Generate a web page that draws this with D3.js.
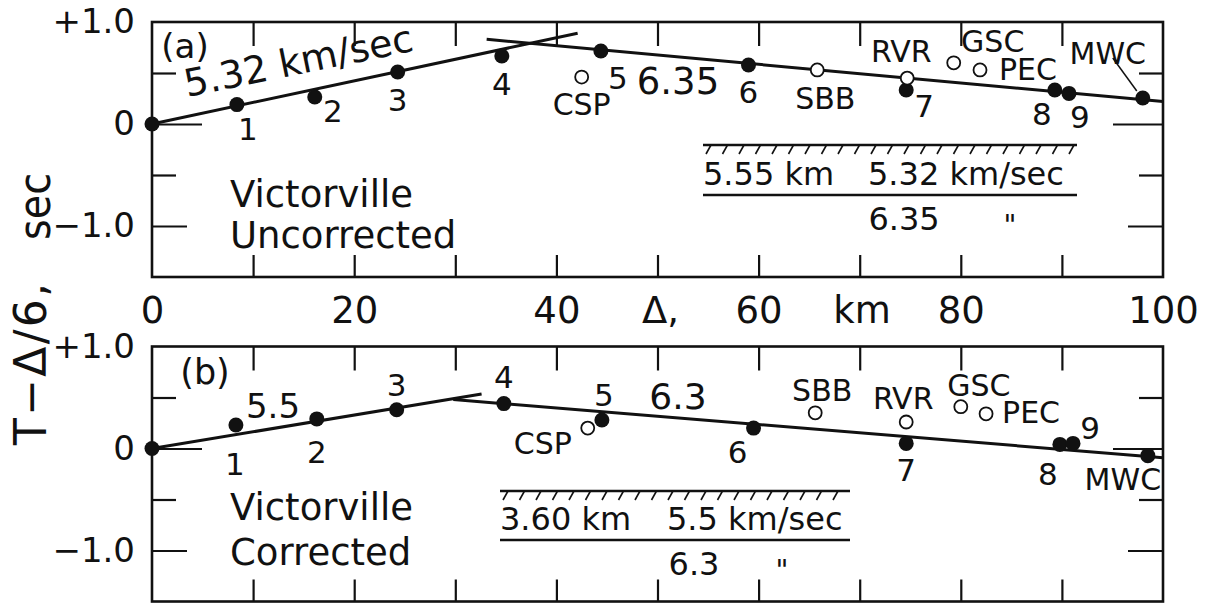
<!DOCTYPE html>
<html>
<head>
<meta charset="utf-8">
<script src="https://cdn.jsdelivr.net/npm/d3@7"></script>
<style>
body {margin:0; background:#fff;}
svg {display:block;}
text {font-family:"DejaVu Sans", sans-serif; fill:#111;}
</style>
</head>
<body>
<svg id="chart" width="1213" height="604"></svg>
<script>
// axis values: distance (km) and reduced time T - delta/6 (sec)
var kmLabels = [0, 20, 40, 60, 80, 100];
var kmMinor = [10, 20, 30, 40, 50, 60, 70, 80, 90];
var tLabels = [1, 0, -1];
var tMarks = [0.5, 0, -0.5, -1];

// shot points (filled) and stations (open), [km, sec]
var shotNames = ['', '1', '2', '3', '4', '5', '6', '7', '8', '9', 'MWC'];
var stationNames = ['CSP', 'SBB', 'RVR', 'GSC', 'PEC'];

// (a) uncorrected
var shotsA = [[0, 0], [8.4, 0.19], [16.1, 0.265], [24.3, 0.51], [34.6, 0.667], [44.4, 0.716],
              [59.0, 0.578], [74.6, 0.333], [89.3, 0.333], [90.7, 0.30], [98.0, 0.255]];
var stationsA = [[42.5, 0.46], [65.8, 0.53], [74.7, 0.45], [79.3, 0.60], [81.9, 0.53]];
var segmentsA = [[[0, 0], [42.1, 0.89]], [[33.1, 0.83], [100, 0.22]]];

// (b) corrected
var shotsB = [[0, 0], [8.3, 0.23], [16.3, 0.29], [24.2, 0.38], [34.8, 0.44], [44.5, 0.28],
              [59.5, 0.20], [74.6, 0.05], [89.8, 0.04], [91.1, 0.05], [98.5, -0.07]];
var stationsB = [[43.1, 0.20], [65.6, 0.35], [74.6, 0.26], [80.0, 0.41], [82.5, 0.34]];
var segmentsB = [[[0, 0], [32.6, 0.535]], [[29.8, 0.48], [100, -0.09]]];

// label offsets from each mark, in px (layout only)
var shotOffA = [[0,0],[11,24],[18,14],[0,28],[0,28],[17,27],[0,27],[18,16],[-13,24],[11,24],[-35,-44]];
var stationOffA = [[0,27],[8,29],[-6,-27],[39,-21],[48,0]];
var shotOffB = [[0,0],[-1,39],[0,33],[0,-25],[0,-27],[2,-25],[-16,24],[0,27],[-12,30],[17,-15],[-25,24]];
var stationOffB = [[-45,15],[7,-22],[-3,-23],[18,-21],[45,-1]];

var ink = '#111';
var svg = d3.select('#chart');
var x = d3.scaleLinear().domain([0, 100]).range([152, 1163]);
var yA = d3.scaleLinear().domain([-1.5, 1]).range([277, 22]);
var yB = d3.scaleLinear().domain([-1.5, 1]).range([601.5, 346.5]);

function tickLength(d) {
    if (d == 0) {return 50}
    else if (d == -1) {return 35}
    return 24;
}

function tFormat(d) {
    if (d == 1) {return '+1.0'}
    else if (d == 0) {return '0'}
    return '\u22121.0';
}

function drawFrame(g, y) {
    // inward ticks on all four sides
    g.append('g').attr('transform', 'translate(0,' + y(-1.5) + ')')
	.call(d3.axisBottom(x).tickValues(kmMinor).tickSize(-22).tickFormat(''));
    g.append('g').attr('transform', 'translate(0,' + y(1) + ')')
	.call(d3.axisTop(x).tickValues(kmMinor).tickSize(-24).tickFormat(''));
    g.append('g').attr('transform', 'translate(' + x(0) + ',0)')
	.call(d3.axisLeft(y).tickValues(tMarks).tickFormat(''))
	.selectAll('.tick line').attr('x2', function(d) {return tickLength(d)});
    g.append('g').attr('transform', 'translate(' + x(100) + ',0)')
	.call(d3.axisRight(y).tickValues(tMarks).tickFormat(''))
	.selectAll('.tick line').attr('x2', function(d) {return -tickLength(d)});
    g.selectAll('.domain').remove();
    g.selectAll('.tick line').attr('stroke', ink).attr('stroke-width', 2.2);

    g.append('rect')
	.attr('x', x(0)).attr('y', y(1))
	.attr('width', x(100) - x(0)).attr('height', y(-1.5) - y(1))
	.attr('fill', 'none').attr('stroke', ink).attr('stroke-width', 2.6);

    var lab = g.append('g').attr('transform', 'translate(' + x(0) + ',0)')
	.call(d3.axisLeft(y).tickValues(tLabels).tickSize(0).tickPadding(17).tickFormat(tFormat));
    lab.select('.domain').remove();
    lab.attr('font-family', null).attr('font-size', 34);
}

function drawData(g, y, shots, stations, segments, shotOff, stationOff) {
    var line = d3.line().x(function(d) {return x(d[0])}).y(function(d) {return y(d[1])});
    g.selectAll('path.seg').data(segments).enter().append('path')
	.attr('class', 'seg')
	.attr('d', line)
	.attr('fill', 'none').attr('stroke', ink).attr('stroke-width', 3);

    g.selectAll('circle.shot').data(shots).enter().append('circle')
	.attr('class', 'shot')
	.attr('cx', function(d) {return x(d[0])})
	.attr('cy', function(d) {return y(d[1])})
	.attr('r', 7.5)
	.attr('fill', ink);

    g.selectAll('circle.station').data(stations).enter().append('circle')
	.attr('class', 'station')
	.attr('cx', function(d) {return x(d[0])})
	.attr('cy', function(d) {return y(d[1])})
	.attr('r', 6.5)
	.attr('fill', '#fff').attr('stroke', ink).attr('stroke-width', 1.8);

    g.selectAll('text.shot').data(shots).enter().append('text')
	.attr('class', 'shot')
	.attr('x', function(d, i) {return x(d[0]) + shotOff[i][0]})
	.attr('y', function(d, i) {return y(d[1]) + shotOff[i][1]})
	.attr('text-anchor', 'middle').attr('dominant-baseline', 'central')
	.attr('font-size', function(d, i) {return i == 10 ? 30 : 31})
	.text(function(d, i) {return shotNames[i]});

    g.selectAll('text.station').data(stations).enter().append('text')
	.attr('class', 'station')
	.attr('x', function(d, i) {return x(d[0]) + stationOff[i][0]})
	.attr('y', function(d, i) {return y(d[1]) + stationOff[i][1]})
	.attr('text-anchor', 'middle').attr('dominant-baseline', 'central')
	.attr('font-size', 30)
	.text(function(d, i) {return stationNames[i]});
}

function drawLayers(g, x0, x1, yTop, baseline, upper, lower, lowerX, dittoX) {
    // hatched top of the layer box
    g.append('line').attr('x1', x0).attr('x2', x1).attr('y1', yTop).attr('y2', yTop)
	.attr('stroke', ink).attr('stroke-width', 2.4);
    g.selectAll('line.hatch').data(d3.range(x0 + 8, x1, 16.5)).enter().append('line')
	.attr('class', 'hatch')
	.attr('x1', function(d) {return d}).attr('y1', yTop)
	.attr('x2', function(d) {return d - 5}).attr('y2', yTop + 9)
	.attr('stroke', ink).attr('stroke-width', 1.6);
    g.append('text').attr('x', x0).attr('y', baseline).attr('font-size', 32).text(upper[0]);
    g.append('text').attr('x', upper[2]).attr('y', baseline).attr('font-size', 32).text(upper[1]);
    g.append('line').attr('x1', x0).attr('x2', x1).attr('y1', baseline + 10).attr('y2', baseline + 10)
	.attr('stroke', ink).attr('stroke-width', 2.4);
    g.append('text').attr('x', lowerX).attr('y', baseline + 45).attr('font-size', 32)
	.attr('text-anchor', 'middle').text(lower);
    g.append('text').attr('x', dittoX).attr('y', baseline + 50).attr('font-size', 28)
	.attr('text-anchor', 'middle').text('"');
}

// (a)
var gA = svg.append('g');
drawFrame(gA, yA);
drawData(gA, yA, shotsA, stationsA, segmentsA, shotOffA, stationOffA);
gA.append('line')
    .attr('x1', x(98.0) - 30).attr('y1', yA(0.255) - 40)
    .attr('x2', x(98.0) - 6).attr('y2', yA(0.255) - 7)
    .attr('stroke', ink).attr('stroke-width', 1.5);
gA.append('text').attr('x', 185).attr('y', 46).attr('font-size', 34)
    .attr('text-anchor', 'middle').attr('dominant-baseline', 'central').text('(a)');
gA.append('text').attr('transform', 'translate(187,97) rotate(-11.5)')
    .attr('font-size', 38).text('5.32 km/sec');
gA.append('text').attr('x', 678).attr('y', 81).attr('font-size', 37)
    .attr('text-anchor', 'middle').attr('dominant-baseline', 'central').text('6.35');
gA.append('text').attr('x', 230).attr('y', 207).attr('font-size', 37).text('Victorville');
gA.append('text').attr('x', 230).attr('y', 248).attr('font-size', 37).text('Uncorrected');
drawLayers(gA, 703, 1077, 145, 185, ['5.55 km', '5.32 km/sec', 868], '6.35', 904, 1010);

// (b)
var gB = svg.append('g');
drawFrame(gB, yB);
drawData(gB, yB, shotsB, stationsB, segmentsB, shotOffB, stationOffB);
gB.append('text').attr('x', 205).attr('y', 372).attr('font-size', 35)
    .attr('text-anchor', 'middle').attr('dominant-baseline', 'central').text('(b)');
gB.append('text').attr('x', 273).attr('y', 406).attr('font-size', 34)
    .attr('text-anchor', 'middle').attr('dominant-baseline', 'central').text('5.5');
gB.append('text').attr('x', 678).attr('y', 396).attr('font-size', 36)
    .attr('text-anchor', 'middle').attr('dominant-baseline', 'central').text('6.3');
gB.append('text').attr('x', 230).attr('y', 520).attr('font-size', 37).text('Victorville');
gB.append('text').attr('x', 230).attr('y', 565).attr('font-size', 37).text('Corrected');
drawLayers(gB, 500, 850, 491, 530, ['3.60 km', '5.5 km/sec', 667], '6.3', 694, 782);

// shared distance labels between the panels
var xl = svg.append('g').attr('transform', 'translate(0,' + yA(-1.5) + ')')
    .call(d3.axisBottom(x).tickValues(kmLabels).tickSize(0).tickPadding(20).tickFormat(d3.format('d')));
xl.select('.domain').remove();
xl.attr('font-family', null).attr('font-size', 37);
svg.append('text').attr('x', 642).attr('y', 323).attr('font-size', 37).text('\u0394,');
svg.append('text').attr('x', 862).attr('y', 323).attr('font-size', 37)
    .attr('text-anchor', 'middle').text('km');

// vertical title
svg.append('text').attr('transform', 'translate(46,445) rotate(-90)')
    .attr('font-size', 44).attr('textLength', 162).attr('lengthAdjust', 'spacing')
    .text('T\u2212\u0394/6,');
svg.append('text').attr('transform', 'translate(50,240) rotate(-90)')
    .attr('font-size', 44).attr('textLength', 67).attr('lengthAdjust', 'spacingAndGlyphs')
    .text('sec');
</script>
</body>
</html>
